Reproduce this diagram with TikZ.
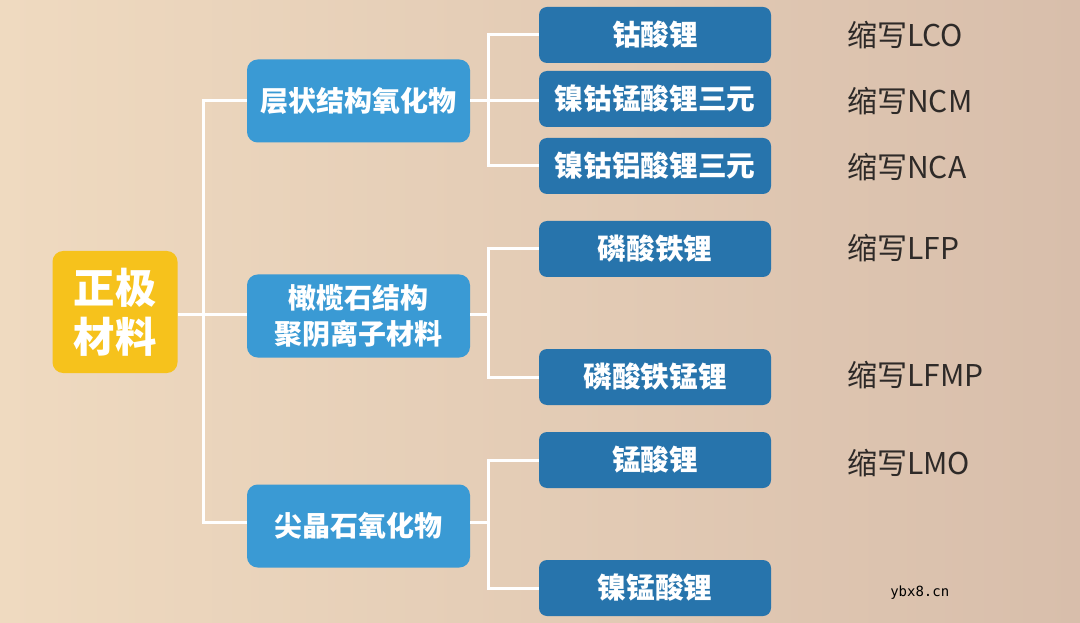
\documentclass[tikz,border=0pt]{standalone}
\usepackage{fontspec}
\setmainfont{Noto Sans CJK SC}
\newfontfamily\cjk{Noto Sans CJK SC}
\newfontfamily\wmfont{DejaVu Sans Mono}
\begin{document}
\begin{tikzpicture}[x=0.75pt,y=-0.75pt,
  rootbox/.style={fill=rootyellow, rounded corners=8pt, minimum width=93.75pt, minimum height=91.5pt,
    text=white, font=\cjk\bfseries\fontsize{31}{37}\selectfont, align=center, inner sep=0pt},
  midbox/.style={fill=midblue, rounded corners=8pt, minimum width=167.25pt, minimum height=62.25pt,
    text=white, font=\cjk\bfseries\fontsize{21}{27}\selectfont, align=center, inner sep=0pt},
  leafbox/.style={fill=leafblue, rounded corners=6pt, minimum width=174pt, minimum height=42pt,
    text=white, font=\cjk\bfseries\fontsize{21.5}{25}\selectfont, align=center, inner sep=0pt},
  abbr/.style={anchor=west, text=abbrgray, font=\cjk\fontsize{22.5}{26}\selectfont, inner sep=0pt},
  link/.style={draw=white, line width=2.25pt}
]
\definecolor{rootyellow}{HTML}{F6C21C}
\definecolor{midblue}{HTML}{3A9AD4}
\definecolor{leafblue}{HTML}{2774AC}
\definecolor{abbrgray}{HTML}{2E2A28}
\definecolor{bgleft}{HTML}{EFDAC0}
\definecolor{bgright}{HTML}{D8BEAB}

\useasboundingbox (0,0) rectangle (1080,623);
% background
\fill[left color=bgleft, right color=bgright] (0,0) rectangle (1080,623);

% nodes
\node[rootbox] (root) at (115,312) {正极\\材料};
\node[midbox] (m1) at (358.5,101) {层状结构氧化物};
\node[midbox] (m2) at (358.5,316) {橄榄石结构\\聚阴离子材料};
\node[midbox] (m3) at (358.5,526) {尖晶石氧化物};

\node[leafbox] (a1) at (655,35) {钴酸锂};
\node[leafbox] (a2) at (655,99) {镍钴锰酸锂三元};
\node[leafbox] (a3) at (655,166) {镍钴铝酸锂三元};
\node[leafbox] (b1) at (655,249) {磷酸铁锂};
\node[leafbox] (b2) at (655,377) {磷酸铁锰锂};
\node[leafbox] (c1) at (655,460) {锰酸锂};
\node[leafbox] (c2) at (655,588) {镍锰酸锂};

\node[abbr] (ta1) at (847,35) {缩写LCO};
\node[abbr] (ta2) at (847,101) {缩写NCM};
\node[abbr] (ta3) at (847,167) {缩写NCA};
\node[abbr] (tb1) at (847,248) {缩写LFP};
\node[abbr] (tb2) at (847,375) {缩写LFMP};
\node[abbr] (tc1) at (847,463) {缩写LMO};

\node[anchor=west, inner sep=0pt, font=\wmfont\fontsize{10.5}{12}\selectfont] (wm) at (890,593) {ybx8.cn};

% connectors
\coordinate (t) at (203,314);
\coordinate (s1) at (488,101);
\coordinate (s2) at (488,314);
\coordinate (s3) at (488,522);

\draw[link] (root.east |- t) -- (t);
\draw[link] (m1.west) -| (t);
\draw[link] (m3.west |- s3) -| (t);
\draw[link] (t) -- (m2.west |- t);

\draw[link] (m1.east) -- (s1);
\draw[link] (s1) |- (a1.west);
\draw[link] (s1) -- (a2.west |- s1);
\draw[link] (s1) |- (a3.west);

\draw[link] (m2.east |- s2) -- (s2);
\draw[link] (s2) |- (b1.west);
\draw[link] (s2) |- (b2.west);

\draw[link] (m3.east |- s3) -- (s3);
\draw[link] (s3) |- (c1.west);
\draw[link] (s3) |- (c2.west);
\end{tikzpicture}
\end{document}
